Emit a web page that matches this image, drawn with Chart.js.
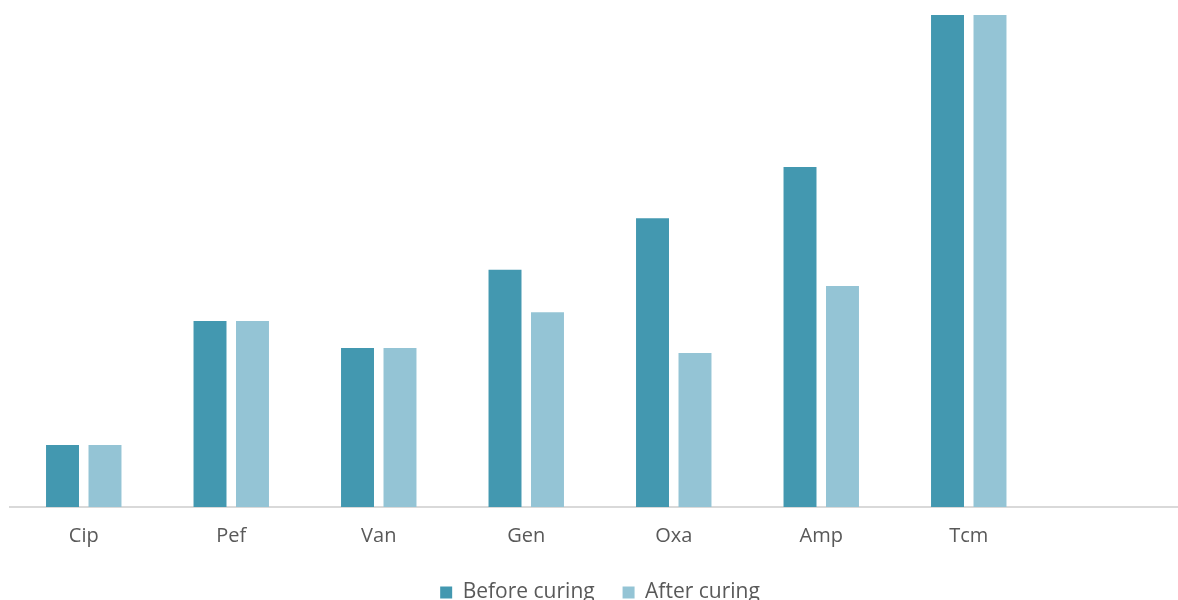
<!DOCTYPE html>
<html>
<head>
<meta charset="utf-8">
<script src="https://cdn.jsdelivr.net/npm/chart.js@4/dist/chart.umd.min.js"></script>
<style>
    html, body { margin: 0; padding: 0; background: #fff; overflow: hidden; }
    #wrap { position: relative; width: 1190px; height: 613px; }
</style>
</head>
<body>
<div id="wrap"><canvas id="chart"></canvas></div>
<script>
// Chart data
const categories = ['Cip', 'Pef', 'Van', 'Gen', 'Oxa', 'Amp', 'Tcm', ''];
const beforeCuring = [1.26, 3.78, 3.23, 4.82, 5.87, 6.91, 10, null];
const afterCuring = [1.26, 3.78, 3.23, 3.96, 3.13, 4.49, 10, null];
const seriesNames = ['Before curing', 'After curing'];

const textColor = '#595959';

new Chart(document.getElementById('chart'), {
    type: 'bar',
    data: {
        labels: categories,
        datasets: [{
            label: seriesNames[0],
            data: beforeCuring,
            backgroundColor: '#4398b0',
            categoryPercentage: 0.576,
            barPercentage: 0.776
        }, {
            label: seriesNames[1],
            data: afterCuring,
            backgroundColor: '#94c4d5',
            categoryPercentage: 0.576,
            barPercentage: 0.776
        }]
    },
    options: {
        responsive: true,
        maintainAspectRatio: false,
        animation: false,
        layout: {
            padding: { left: 10, right: 0, top: 15, bottom: 0 }
        },
        plugins: {
            legend: {
                position: 'bottom',
                maxHeight: 48,
                labels: {
                    color: textColor,
                    font: { family: 'Open Sans', size: 21 },
                    boxWidth: 12,
                    boxHeight: 12,
                    padding: 17,
                    // a little extra room between the two legend entries
                    generateLabels: chart => {
                        const items = Chart.defaults.plugins.legend.labels.generateLabels(chart);
                        items[0].text += '  ';
                        return items;
                    }
                }
            },
            tooltip: { enabled: false }
        },
        scales: {
            x: {
                grid: { display: false, drawTicks: false },
                border: { color: '#d9d9d9', width: 2 },
                ticks: {
                    color: textColor,
                    font: { family: 'Open Sans', size: 20 },
                    padding: 17
                }
            },
            y: {
                display: false,
                min: 0,
                max: 10
            }
        }
    }
});
</script>
</body>
</html>
